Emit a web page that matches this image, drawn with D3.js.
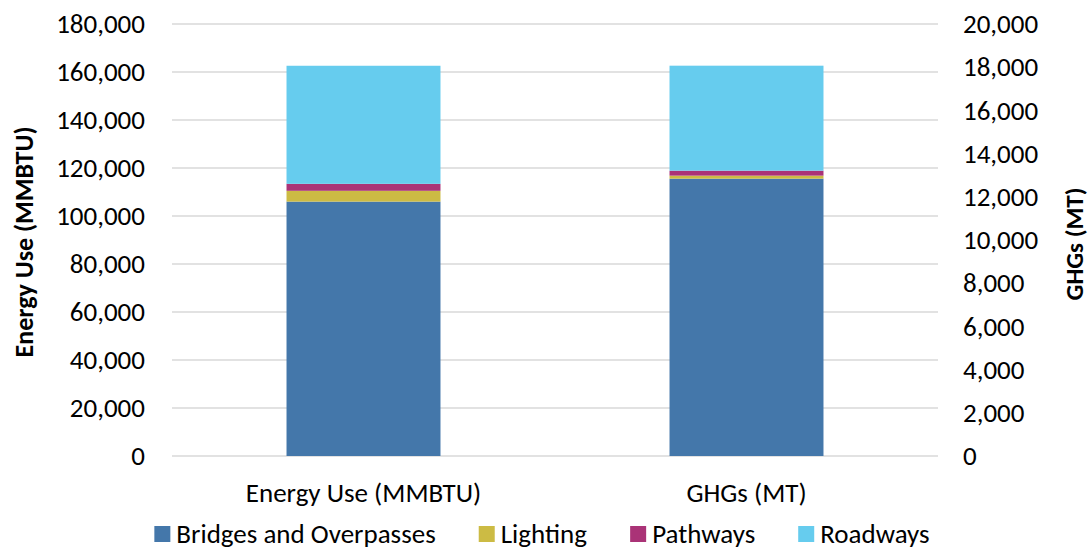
<!DOCTYPE html>
<html>
<head>
<meta charset="utf-8">
<script src="https://cdn.jsdelivr.net/npm/d3@7"></script>
<style>
  body { margin: 0; background: #fff; }
  svg { font-family: Calibri, Carlito, Lato, sans-serif; }
</style>
</head>
<body>
<svg id="chart"></svg>
<script>
// values
const categories = ["Energy Use (MMBTU)", "GHGs (MT)"];
const seriesNames = ["Bridges and Overpasses", "Lighting", "Pathways", "Roadways"];
const energyUse = [106000, 4500, 2900, 49200];   // left axis
const ghgs = [12840, 140, 230, 4860];             // right axis
const colors = ["#4477AA", "#CCBB44", "#AA3377", "#66CCEE"];

const W = 1092, H = 550;
const margin = { top: 24, right: 154, bottom: 94, left: 172 };
const innerW = W - margin.left - margin.right;
const innerH = H - margin.top - margin.bottom;
const fs = 27;

const svg = d3.select("#chart").attr("width", W).attr("height", H);
const g = svg.append("g").attr("transform", `translate(${margin.left},${margin.top})`);

const x = d3.scaleBand().domain(categories).range([0, innerW])
  .paddingInner(0.598).paddingOuter(0.299);
const yLeft = d3.scaleLinear().domain([0, 180000]).range([innerH, 0]);
const yRight = d3.scaleLinear().domain([0, 20000]).range([innerH, 0]);
const scales = [yLeft, yRight];

// gridlines
g.append("g").selectAll("line")
  .data(yLeft.ticks(10))
  .join("line")
  .attr("x1", 0).attr("x2", innerW)
  .attr("y1", d => yLeft(d)).attr("y2", d => yLeft(d))
  .attr("stroke", "#d9d9d9").attr("stroke-width", 1.6);

// stacked bars, one per category, each on its own axis
const rows = categories.map((c, i) => {
  const vals = i === 0 ? energyUse : ghgs;
  const r = { cat: c };
  seriesNames.forEach((s, j) => r[s] = vals[j]);
  return r;
});
const stacked = d3.stack().keys(seriesNames)(rows);

g.append("g").selectAll("g")
  .data(stacked)
  .join("g")
  .attr("fill", (d, i) => colors[i])
  .selectAll("rect")
  .data(d => d.map((p, i) => ({ p, i })))
  .join("rect")
  .attr("x", d => x(categories[d.i]))
  .attr("width", x.bandwidth())
  .attr("y", d => scales[d.i](d.p[1]))
  .attr("height", d => scales[d.i](d.p[0]) - scales[d.i](d.p[1]));

// axes
const fmt = d3.format(",");
const axL = g.append("g")
  .call(d3.axisLeft(yLeft).ticks(10).tickFormat(fmt).tickSize(0).tickPadding(27));
const axR = g.append("g").attr("transform", `translate(${innerW},0)`)
  .call(d3.axisRight(yRight).ticks(10).tickFormat(fmt).tickSize(0).tickPadding(25));
const axB = g.append("g").attr("transform", `translate(0,${innerH})`)
  .call(d3.axisBottom(x).tickSize(0).tickPadding(27));
[axL, axR, axB].forEach(a => {
  a.select(".domain").remove();
  a.selectAll("text").attr("font-size", fs).attr("fill", "#000")
    .attr("font-family", "Calibri, Carlito, Lato, sans-serif");
});

// axis titles
svg.append("text")
  .attr("transform", `translate(33,242) rotate(-90)`)
  .attr("text-anchor", "middle")
  .attr("font-size", 26).attr("font-weight", "bold")
  .text("Energy Use (MMBTU)");
svg.append("text")
  .attr("transform", `translate(1083,244) rotate(-90)`)
  .attr("text-anchor", "middle")
  .attr("font-size", 25).attr("font-weight", "bold")
  .text("GHGs (MT)");

// legend
const legend = svg.append("g");
const items = legend.selectAll("g").data(seriesNames).join("g");
items.append("rect").attr("width", 16).attr("height", 16).attr("y", -17)
  .attr("fill", (d, i) => colors[i]);
items.append("text").attr("x", 22).attr("font-size", fs).text(d => d);
let cx = 0;
items.each(function () {
  const w = this.getBBox().width;
  d3.select(this).attr("transform", `translate(${cx},0)`);
  cx += w + 43;
});
const totalW = cx - 43;
legend.attr("transform", `translate(${542 - totalW / 2},543)`);
</script>
</body>
</html>
